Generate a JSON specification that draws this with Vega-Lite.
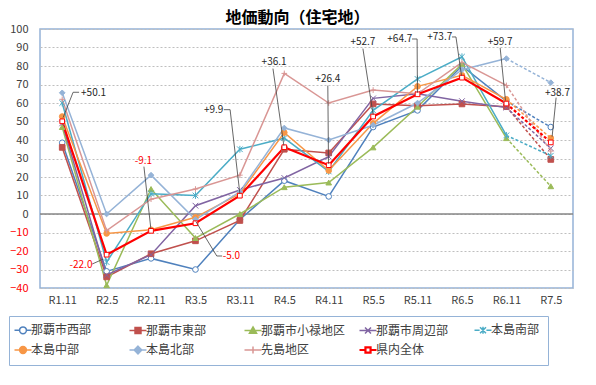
{
  "$schema": "https://vega.github.io/schema/vega-lite/v6.json",
  "width": 533,
  "height": 259,
  "autosize": {"type": "none"},
  "padding": {"left": 40, "top": 29, "right": 23, "bottom": 97},
  "background": "white",
  "title": {"text": "地価動向（住宅地）", "font": "Noto Sans CJK JP", "fontSize": 16, "fontWeight": "bold", "color": "#000000", "anchor": "middle", "dx": -9, "offset": -3},
  "config": {
    "view": {"stroke": "#95B3D7", "strokeWidth": 1.5},
    "axis": {"labelFont": "Noto Sans CJK JP", "labelFontSize": 11, "labelColor": "#404040", "ticks": false, "domain": false, "title": null, "labelOverlap": false}
  },
  "datasets": {
    "series": [
      {"s":"那覇市西部","t":"R1.11","i":0,"v":38.5},{"s":"那覇市西部","t":"R2.5","i":1,"v":-31},{"s":"那覇市西部","t":"R2.11","i":2,"v":-24},{"s":"那覇市西部","t":"R3.5","i":3,"v":-30},{"s":"那覇市西部","t":"R3.11","i":4,"v":-3},{"s":"那覇市西部","t":"R4.5","i":5,"v":18},{"s":"那覇市西部","t":"R4.11","i":6,"v":9.5},{"s":"那覇市西部","t":"R5.5","i":7,"v":47},{"s":"那覇市西部","t":"R5.11","i":8,"v":56},{"s":"那覇市西部","t":"R6.5","i":9,"v":80},{"s":"那覇市西部","t":"R6.11","i":10,"v":61},{"s":"那覇市西部","t":"R7.5","i":11,"v":47},
      {"s":"那覇市東部","t":"R1.11","i":0,"v":36},{"s":"那覇市東部","t":"R2.5","i":1,"v":-34},{"s":"那覇市東部","t":"R2.11","i":2,"v":-21.5},{"s":"那覇市東部","t":"R3.5","i":3,"v":-14.5},{"s":"那覇市東部","t":"R3.11","i":4,"v":-3.5},{"s":"那覇市東部","t":"R4.5","i":5,"v":35},{"s":"那覇市東部","t":"R4.11","i":6,"v":33},{"s":"那覇市東部","t":"R5.5","i":7,"v":59.5},{"s":"那覇市東部","t":"R5.11","i":8,"v":58.5},{"s":"那覇市東部","t":"R6.5","i":9,"v":59.5},{"s":"那覇市東部","t":"R6.11","i":10,"v":58},{"s":"那覇市東部","t":"R7.5","i":11,"v":29.5},
      {"s":"那覇市小禄地区","t":"R1.11","i":0,"v":47},{"s":"那覇市小禄地区","t":"R2.5","i":1,"v":-38.5},{"s":"那覇市小禄地区","t":"R2.11","i":2,"v":13.5},{"s":"那覇市小禄地区","t":"R3.5","i":3,"v":-13},{"s":"那覇市小禄地区","t":"R3.11","i":4,"v":0},{"s":"那覇市小禄地区","t":"R4.5","i":5,"v":14.5},{"s":"那覇市小禄地区","t":"R4.11","i":6,"v":17},{"s":"那覇市小禄地区","t":"R5.5","i":7,"v":36},{"s":"那覇市小禄地区","t":"R5.11","i":8,"v":58},{"s":"那覇市小禄地区","t":"R6.5","i":9,"v":81},{"s":"那覇市小禄地区","t":"R6.11","i":10,"v":41},{"s":"那覇市小禄地区","t":"R7.5","i":11,"v":15},
      {"s":"那覇市周辺部","t":"R1.11","i":0,"v":49},{"s":"那覇市周辺部","t":"R2.5","i":1,"v":-33},{"s":"那覇市周辺部","t":"R2.11","i":2,"v":-22},{"s":"那覇市周辺部","t":"R3.5","i":3,"v":4.5},{"s":"那覇市周辺部","t":"R3.11","i":4,"v":13},{"s":"那覇市周辺部","t":"R4.5","i":5,"v":19.5},{"s":"那覇市周辺部","t":"R4.11","i":6,"v":31},{"s":"那覇市周辺部","t":"R5.5","i":7,"v":62.5},{"s":"那覇市周辺部","t":"R5.11","i":8,"v":65},{"s":"那覇市周辺部","t":"R6.5","i":9,"v":61},{"s":"那覇市周辺部","t":"R6.11","i":10,"v":57.5},{"s":"那覇市周辺部","t":"R7.5","i":11,"v":35.5},
      {"s":"本島南部","t":"R1.11","i":0,"v":60},{"s":"本島南部","t":"R2.5","i":1,"v":-26},{"s":"本島南部","t":"R2.11","i":2,"v":11},{"s":"本島南部","t":"R3.5","i":3,"v":10},{"s":"本島南部","t":"R3.11","i":4,"v":35},{"s":"本島南部","t":"R4.5","i":5,"v":41},{"s":"本島南部","t":"R4.11","i":6,"v":23},{"s":"本島南部","t":"R5.5","i":7,"v":56},{"s":"本島南部","t":"R5.11","i":8,"v":73},{"s":"本島南部","t":"R6.5","i":9,"v":85},{"s":"本島南部","t":"R6.11","i":10,"v":42.5},{"s":"本島南部","t":"R7.5","i":11,"v":31.5},
      {"s":"本島中部","t":"R1.11","i":0,"v":52.7},{"s":"本島中部","t":"R2.5","i":1,"v":-10.5},{"s":"本島中部","t":"R2.11","i":2,"v":-8.5},{"s":"本島中部","t":"R3.5","i":3,"v":-1.8},{"s":"本島中部","t":"R3.11","i":4,"v":11},{"s":"本島中部","t":"R4.5","i":5,"v":44},{"s":"本島中部","t":"R4.11","i":6,"v":23.5},{"s":"本島中部","t":"R5.5","i":7,"v":49},{"s":"本島中部","t":"R5.11","i":8,"v":69},{"s":"本島中部","t":"R6.5","i":9,"v":75},{"s":"本島中部","t":"R6.11","i":10,"v":62},{"s":"本島中部","t":"R7.5","i":11,"v":41},
      {"s":"本島北部","t":"R1.11","i":0,"v":65.5},{"s":"本島北部","t":"R2.5","i":1,"v":0},{"s":"本島北部","t":"R2.11","i":2,"v":21},{"s":"本島北部","t":"R3.5","i":3,"v":-3},{"s":"本島北部","t":"R3.11","i":4,"v":12},{"s":"本島北部","t":"R4.5","i":5,"v":46.5},{"s":"本島北部","t":"R4.11","i":6,"v":40},{"s":"本島北部","t":"R5.5","i":7,"v":48},{"s":"本島北部","t":"R5.11","i":8,"v":60},{"s":"本島北部","t":"R6.5","i":9,"v":78},{"s":"本島北部","t":"R6.11","i":10,"v":84},{"s":"本島北部","t":"R7.5","i":11,"v":71},
      {"s":"先島地区","t":"R1.11","i":0,"v":62},{"s":"先島地区","t":"R2.5","i":1,"v":-9},{"s":"先島地区","t":"R2.11","i":2,"v":8},{"s":"先島地区","t":"R3.5","i":3,"v":13.5},{"s":"先島地区","t":"R3.11","i":4,"v":21},{"s":"先島地区","t":"R4.5","i":5,"v":76},{"s":"先島地区","t":"R4.11","i":6,"v":60},{"s":"先島地区","t":"R5.5","i":7,"v":67},{"s":"先島地区","t":"R5.11","i":8,"v":65},{"s":"先島地区","t":"R6.5","i":9,"v":82},{"s":"先島地区","t":"R6.11","i":10,"v":69.5},{"s":"先島地区","t":"R7.5","i":11,"v":34},
      {"s":"県内全体","t":"R1.11","i":0,"v":50.1},{"s":"県内全体","t":"R2.5","i":1,"v":-22.0},{"s":"県内全体","t":"R2.11","i":2,"v":-9.1},{"s":"県内全体","t":"R3.5","i":3,"v":-5.0},{"s":"県内全体","t":"R3.11","i":4,"v":9.9},{"s":"県内全体","t":"R4.5","i":5,"v":36.1},{"s":"県内全体","t":"R4.11","i":6,"v":26.4},{"s":"県内全体","t":"R5.5","i":7,"v":52.7},{"s":"県内全体","t":"R5.11","i":8,"v":64.7},{"s":"県内全体","t":"R6.5","i":9,"v":73.7},{"s":"県内全体","t":"R6.11","i":10,"v":59.7},{"s":"県内全体","t":"R7.5","i":11,"v":38.7}
    ],
    "notes": [
      {"label":"+50.1","tx":0.705,"ty":65.4,"ax":0.02,"ay":52.1,"bx":0.245,"by":65.8,"hx":0.38},
      {"label":"-22.0","tx":0.423,"ty":-27.5,"ax":0.92,"ay":-24.4,"bx":0.67,"by":-27.1},
      {"label":"-9.1","tx":1.83,"ty":28.5,"ax":1.995,"ay":-7.8,"bx":1.84,"by":25.6},
      {"label":"-5.0","tx":3.81,"ty":-22.9,"ax":3.01,"ay":-4.1,"bx":3.48,"by":-22.7,"hx":3.6},
      {"label":"+9.9","tx":3.41,"ty":56.4,"ax":4.0,"ay":11,"bx":3.78,"by":56.4,"hx":3.64},
      {"label":"+36.1","tx":4.77,"ty":82,"ax":4.99,"ay":37,"bx":4.745,"by":78.6},
      {"label":"+26.4","tx":5.98,"ty":73,"ax":5.995,"ay":27.2,"bx":5.98,"by":69.4},
      {"label":"+52.7","tx":6.77,"ty":92.8,"ax":7.0,"ay":53.7,"bx":6.77,"by":89.4},
      {"label":"+64.7","tx":7.6,"ty":94.6,"ax":7.998,"ay":65.6,"bx":7.99,"by":94.6,"hx":7.875},
      {"label":"+73.7","tx":8.5,"ty":95.7,"ax":8.99,"ay":74.8,"bx":8.865,"by":95.7,"hx":8.775},
      {"label":"+59.7","tx":9.86,"ty":92.8,"ax":9.98,"ay":61.3,"bx":9.86,"by":89.8},
      {"label":"+38.7","tx":11.15,"ty":65.6,"ax":11.03,"ay":41.8,"bx":11.12,"by":62.9}
    ],
    "zero": [{"v": 0}]
  },
  "data": {"name": "series"},
  "layer": [
    {
      "data": {"name": "zero"},
      "mark": {"type": "rule", "color": "#868686", "strokeWidth": 1.5},
      "encoding": {
        "y": {"field": "v", "type": "quantitative", "scale": {"domain": [-40, 100], "nice": false, "zero": false},
              "axis": {"values": [-40,-30,-20,-10,0,10,20,30,40,50,60,70,80,90,100], "tickCount": 20, "grid": true, "gridColor": "#BFBFBF", "gridDash": [2, 2], "gridWidth": 1, "labelPadding": 12, "labelOverlap": false,
                       "labelColor": {"condition": {"test": "datum.value < 0", "value": "#FF0000"}, "value": "#404040"}}}
      }
    },
    {
      "transform": [{"filter": "datum.i <= 10"}],
      "mark": {"type": "line", "strokeJoin": "miter"},
      "encoding": {
        "x": {"field": "i", "type": "quantitative", "scale": {"domain": [-0.5, 11.5], "nice": false, "zero": false},
              "axis": {"values": [0,1,2,3,4,5,6,7,8,9,10,11], "tickCount": 20, "grid": false, "labelPadding": 6, "labelOverlap": false,
                       "labelExpr": "['R1.11','R2.5','R2.11','R3.5','R3.11','R4.5','R4.11','R5.5','R5.11','R6.5','R6.11','R7.5'][datum.value]"}},
        "y": {"field": "v", "type": "quantitative"},
        "color": {"field": "s", "type": "nominal",
          "scale": {"domain": ["那覇市西部","那覇市東部","那覇市小禄地区","那覇市周辺部","本島南部","本島中部","本島北部","先島地区","県内全体"],
                    "range": ["#4F81BD","#C0504D","#9BBB59","#8064A2","#4BACC6","#F79646","#95B3D7","#D99694","#FF0000"]},
          "legend": {
            "title": null, "orient": "none", "legendX": -31, "legendY": 287, "direction": "horizontal", "columns": 5, "gridAlign": "all",
            "columnPadding": 9, "rowPadding": 6, "padding": 8, "strokeColor": "#95B3D7", "fillColor": "white",
            "symbolSize": 289, "symbolType": "stroke", "labelFont": "Noto Sans CJK JP", "labelFontSize": 12, "labelColor": "#404040", "labelOffset": 2,
            "encode": {"symbols": {"update": {
              "shape": {"signal": "['M-1,0H-0.4M0.4,0H1M0.4,0A0.4,0.4,0,1,1,-0.4,0A0.4,0.4,0,1,1,0.4,0Z','M-1,0H1M-0.35,-0.35H0.35V0.35H-0.35Z','M-1,0H1M0,-0.42L0.42,0.32H-0.42Z','M-1,0H1M-0.35,-0.35L0.35,0.35M-0.35,0.35L0.35,-0.35','M-1,0H-0.4M0.4,0H1M-0.35,-0.35L0.35,0.35M-0.35,0.35L0.35,-0.35M0,-0.42V0.42','M-1,0H1M0.4,0A0.4,0.4,0,1,1,-0.4,0A0.4,0.4,0,1,1,0.4,0Z','M-1,0H1M0,-0.45L0.45,0L0,0.45L-0.45,0Z','M-1,0H1M0,-0.4V0.4','M-1,0H-0.35M0.35,0H1M-0.3,-0.3H0.3V0.3H-0.3Z'][indexof(['那覇市西部','那覇市東部','那覇市小禄地区','那覇市周辺部','本島南部','本島中部','本島北部','先島地区','県内全体'], datum.value)]"},
              "fill": {"signal": "['white','#C0504D','#9BBB59','transparent','transparent','#F79646','#95B3D7','transparent','white'][indexof(['那覇市西部','那覇市東部','那覇市小禄地区','那覇市周辺部','本島南部','本島中部','本島北部','先島地区','県内全体'], datum.value)]"},
              "strokeWidth": {"signal": "datum.value === '県内全体' ? 2.2 : 1.5"}
            }}}
          }},
        "strokeWidth": {"condition": {"test": "datum.s === '県内全体'", "value": 2.2}, "value": 1.5}
      }
    },
    {
      "transform": [{"filter": "datum.i >= 10"}],
      "mark": {"type": "line", "strokeDash": [3, 2]},
      "encoding": {
        "x": {"field": "i", "type": "quantitative"},
        "y": {"field": "v", "type": "quantitative"},
        "color": {"field": "s", "type": "nominal", "legend": null},
        "strokeWidth": {"condition": {"test": "datum.s === '県内全体'", "value": 2.2}, "value": 1.5}
      }
    },
    {
      "mark": {"type": "point", "strokeWidth": 1, "opacity": 1, "filled": false},
      "encoding": {
        "x": {"field": "i", "type": "quantitative"},
        "y": {"field": "v", "type": "quantitative"},
        "size": {"condition": {"test": "datum.s === '県内全体'", "value": 22}, "value": 32},
        "shape": {"condition": [
          {"test": "datum.s === '那覇市西部'", "value": "circle"},
          {"test": "datum.s === '那覇市東部'", "value": "square"},
          {"test": "datum.s === '那覇市小禄地区'", "value": "triangle-up"},
          {"test": "datum.s === '那覇市周辺部'", "value": "M-1,-1L1,1M-1,1L1,-1"},
          {"test": "datum.s === '本島南部'", "value": "M-1,-1L1,1M-1,1L1,-1M0,-1.2V1.2"},
          {"test": "datum.s === '本島中部'", "value": "circle"},
          {"test": "datum.s === '本島北部'", "value": "diamond"},
          {"test": "datum.s === '先島地区'", "value": "M-1,0H1M0,-1V1"}
        ], "value": "square"},
        "fill": {"condition": [
          {"test": "datum.s === '那覇市西部'", "value": "white"},
          {"test": "datum.s === '那覇市東部'", "value": "#C0504D"},
          {"test": "datum.s === '那覇市小禄地区'", "value": "#9BBB59"},
          {"test": "datum.s === '本島中部'", "value": "#F79646"},
          {"test": "datum.s === '本島北部'", "value": "#95B3D7"},
          {"test": "datum.s === '県内全体'", "value": "white"}
        ], "value": "transparent"},
        "stroke": {"condition": [
          {"test": "datum.s === '那覇市西部'", "value": "#4F81BD"},
          {"test": "datum.s === '那覇市東部'", "value": "#C0504D"},
          {"test": "datum.s === '那覇市小禄地区'", "value": "#9BBB59"},
          {"test": "datum.s === '那覇市周辺部'", "value": "#8064A2"},
          {"test": "datum.s === '本島南部'", "value": "#4BACC6"},
          {"test": "datum.s === '本島中部'", "value": "#F79646"},
          {"test": "datum.s === '本島北部'", "value": "#95B3D7"},
          {"test": "datum.s === '先島地区'", "value": "#D99694"}
        ], "value": "#FF0000"}
      }
    },
    {
      "data": {"name": "notes"},
      "mark": {"type": "rule", "color": "#404040", "strokeWidth": 0.8},
      "encoding": {
        "x": {"field": "ax", "type": "quantitative"},
        "y": {"field": "ay", "type": "quantitative"},
        "x2": {"field": "bx"},
        "y2": {"field": "by"}
      }
    },
    {
      "data": {"name": "notes"},
      "transform": [{"filter": "isValid(datum.hx)"}],
      "mark": {"type": "rule", "color": "#404040", "strokeWidth": 0.8},
      "encoding": {
        "x": {"field": "bx", "type": "quantitative"},
        "y": {"field": "by", "type": "quantitative"},
        "x2": {"field": "hx"}
      }
    },
    {
      "data": {"name": "notes"},
      "mark": {"type": "text", "font": "Noto Sans CJK JP", "fontSize": 10, "align": "center", "baseline": "middle"},
      "encoding": {
        "x": {"field": "tx", "type": "quantitative"},
        "y": {"field": "ty", "type": "quantitative"},
        "text": {"field": "label"},
        "color": {"condition": {"test": "indexof(datum.label, '-') === 0", "value": "#FF0000"}, "value": "#262626"}
      }
    }
  ]
}
